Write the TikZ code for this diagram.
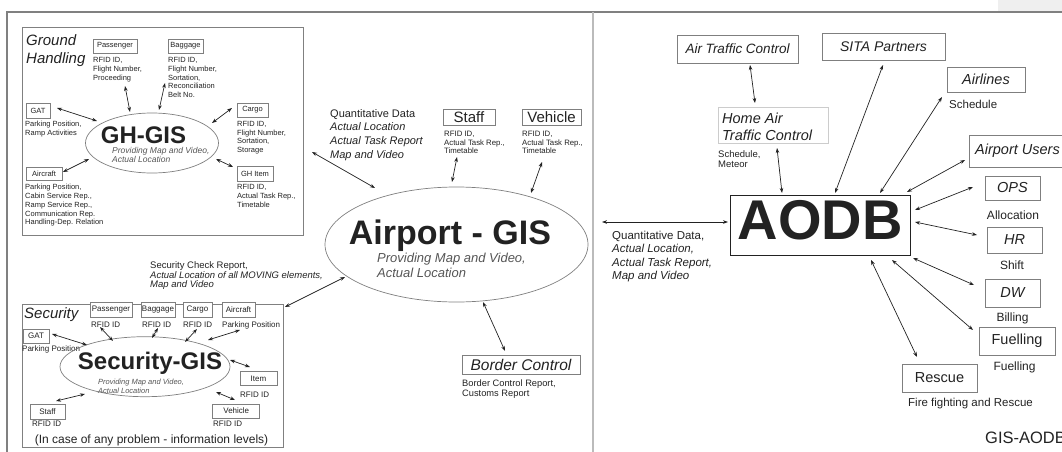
\documentclass[tikz,border=0pt]{standalone}
\usepackage{fontspec}
\setmainfont{Liberation Sans}
\usetikzlibrary{arrows.meta,shapes.geometric,calc}
\newcommand\myfs[2]{\fontsize{#1}{#2}\selectfont}
\definecolor{ink}{HTML}{222222}
\definecolor{boxc}{HTML}{7F7F7F}
\definecolor{subc}{HTML}{555555}
\definecolor{framec}{HTML}{808080}
\definecolor{sepc}{HTML}{BBBBBB}
\definecolor{cornerc}{HTML}{EFEFEF}
\definecolor{hatcc}{HTML}{CCCCCC}
\begin{document}
\begin{tikzpicture}[x=1pt,y=-1pt,
  every node/.style={text=ink},
  bx/.style 2 args={draw=boxc, line width=0.7pt, fill=white, inner sep=0pt, minimum width=#1, minimum height=#2},
  lbl/.style={anchor=north west, inner sep=0pt, align=left},
  wl/.style={anchor=west, inner sep=0pt},
  ell/.style 2 args={ellipse, draw=boxc, line width=0.7pt, minimum width=#1, minimum height=#2, inner sep=0pt},
  arr/.style={{Stealth[length=5pt,width=3.6pt]}-{Stealth[length=5pt,width=3.6pt]}, line width=0.7pt, draw=ink},
  sm/.style={font=\myfs{7.5}{8.7}},
]
\useasboundingbox (0,0) rectangle (1062,452);
\clip (0,0) rectangle (1062,452);
\fill[cornerc] (998,0) rectangle (1062,12);
\draw[framec, line width=1.2pt] (7,452) -- (7,12) -- (1062,12);
\draw[sepc, line width=2pt] (593,12) -- (593,452);

% ---------------- Ground handling ----------------
\node[bx={281}{208}, draw=framec, fill=none] (ghframe) at (162.5,131) {};
\node[lbl, font=\itshape\myfs{15}{18}] (ghtitle) at (26,34.5) {Ground\\Handling};
\node[bx={44}{14}, sm] (pgbox) at (115,46) {Passenger};
\node[lbl, sm] (pglbl) at (93,57.3) {RFID ID,\\Flight Number,\\Proceeding};
\node[bx={35}{14}, sm] (bgbox) at (185.5,46) {Baggage};
\node[lbl, sm] (bglbl) at (168,57.3) {RFID ID,\\Flight Number,\\Sortation,\\Reconciliation\\Belt No.};
\node[bx={24}{15}, sm] (gatbox) at (38,110.5) {GAT};
\node[lbl, sm] (gatlbl) at (25,121) {Parking Position,\\Ramp Activities};
\node[bx={31}{14}, sm] (cgbox) at (252.5,110) {Cargo};
\node[lbl, sm] (cglbl) at (237,121) {RFID ID,\\Flight Number,\\Sortation,\\Storage};
\node[bx={36}{13}, sm] (acbox) at (44,173.5) {Aircraft};
\node[lbl, sm] (aclbl) at (25,184.3) {Parking Position,\\Cabin Service Rep.,\\Ramp Service Rep.,\\Communication Rep.\\Handling-Dep. Relation};
\node[bx={36}{15}, sm] (gibox) at (255,173.5) {GH Item};
\node[lbl, sm] (gilbl) at (237,184.3) {RFID ID,\\Actual Task Rep.,\\Timetable};
\node[ell={133}{60}] (ghgis) at (152,143) {};
\node[font=\bfseries\myfs{24}{24}, inner sep=0pt] (ghgist) at (143.5,135) {GH-GIS};
\node[lbl, font=\itshape\myfs{8.5}{9}, text=subc] (ghgiss) at (112,146.8) {Providing Map and Video,\\Actual Location};

\draw[arr] ($(pgbox)+(10,40)$) -- ($(ghgis)+(-22,-31)$);
\draw[arr] ($(bgbox)+(-20.5,37)$) -- ($(ghgis)+(7,-33)$);
\draw[arr] ($(gatbox)+(19,-2.5)$) -- ($(ghgis)+(-55,-22)$);
\draw[arr] ($(cgbox)+(-20.5,-2)$) -- ($(ghgis)+(60,-20)$);
\draw[arr] ($(acbox)+(19,-1.5)$) -- ($(ghgis)+(-63,16)$);
\draw[arr] ($(gibox)+(-22,-6.5)$) -- ($(ghgis)+(64,16)$);

% ---------------- Airport GIS ----------------
\node[ell={263}{115}] (agis) at (456.5,244.5) {};
\node[font=\bfseries\myfs{34}{34}, inner sep=0pt] (agist) at (450,236) {Airport - GIS};
\node[lbl, font=\itshape\myfs{13}{15}, text=subc] (agiss) at (377,253.3) {Providing Map and Video,\\Actual Location};
\node[lbl, font=\myfs{11}{13.7}] (qlbl) at (330,109) {Quantitative Data\\\textit{Actual Location}\\\textit{Actual Task Report}\\\textit{Map and Video}};
\node[bx={52}{16}, font=\myfs{15}{15}] (staffbox) at (469,117) {Staff};
\node[lbl, font=\myfs{7.8}{8.5}] (stafflbl) at (444,131) {RFID ID,\\Actual Task Rep.,\\Timetable};
\node[bx={59}{16}, font=\myfs{15}{15}] (vehbox) at (551.5,117) {Vehicle};
\node[lbl, font=\myfs{7.8}{8.5}] (vehlbl) at (522,131) {RFID ID,\\Actual Task Rep.,\\Timetable};
\node[bx={118}{19}, font=\itshape\myfs{15.5}{15.5}] (bcbox) at (521,364.5) {Border Control};
\node[lbl, font=\myfs{9.3}{10}] (bclbl) at (462,379.5) {Border Control Report,\\Customs Report};
\node[lbl, font=\myfs{9.5}{9.5}] (seclbl) at (150,261.5) {Security Check Report,\\\textit{Actual Location of all MOVING elements,}\\\textit{Map and Video}};

% ---------------- Security ----------------
\node[bx={261}{143}, draw=framec, fill=none] (secframe) at (152.5,375.5) {};
\node[lbl, font=\itshape\myfs{15}{15}] (sectitle) at (24,307) {Security};
\node[bx={42}{15}, font=\myfs{8}{8}] (spgbox) at (111,309.5) {Passenger};
\node[bx={34}{15}, font=\myfs{8}{8}] (sbgbox) at (158,309.5) {Baggage};
\node[bx={29}{15}, font=\myfs{8}{8}] (scgbox) at (197.5,309.5) {Cargo};
\node[bx={33}{15}, font=\myfs{8}{8}] (sacbox) at (238.5,309.5) {Aircraft};
\node[wl, font=\myfs{8}{8}] (spglbl) at (91,324.3) {RFID ID};
\node[wl, font=\myfs{8}{8}] (sbglbl) at (142,324.3) {RFID ID};
\node[wl, font=\myfs{8}{8}] (scglbl) at (183,324.3) {RFID ID};
\node[wl, font=\myfs{8}{8}] (saclbl) at (222,325.7) {Parking Position};
\node[bx={26}{14}, font=\myfs{8}{8}] (sgatbox) at (36,336) {GAT};
\node[wl, font=\myfs{8}{8}] (sgatlbl) at (22,349.3) {Parking Position};
\node[ell={170}{60}] (secgis) at (145,366.7) {};
\node[font=\bfseries\myfs{24}{24}, inner sep=0pt] (secgist) at (150,363) {Security-GIS};
\node[lbl, font=\itshape\myfs{7.5}{8.5}, text=subc] (secgiss) at (98,379.2) {Providing Map and Video,\\Actual Location};
\node[bx={37}{14}, font=\myfs{8}{8}] (sitembox) at (258.5,378.5) {Item};
\node[wl, font=\myfs{8}{8}] (sitemlbl) at (240,395) {RFID ID};
\node[bx={35}{15}, font=\myfs{8}{8}] (sstaffbox) at (47.5,411.5) {Staff};
\node[wl, font=\myfs{8}{8}] (sstafflbl) at (32,424) {RFID ID};
\node[bx={47}{14}, font=\myfs{8}{8}] (svehbox) at (236.3,411) {Vehicle};
\node[wl, font=\myfs{8}{8}] (svehlbl) at (213,424) {RFID ID};
\node[font=\myfs{12}{12}, inner sep=0pt] (sfoot) at (151.5,440.7) {(In case of any problem - information levels)};

\draw[arr] ($(spgbox)+(-11,17.5)$) -- ($(secgis)+(-32,-25.7)$);
\draw[arr] ($(sbgbox)+(0,18.5)$) -- ($(secgis)+(7,-28.7)$);
\draw[arr] ($(scgbox)+(-0.5,19.5)$) -- ($(secgis)+(40,-24.7)$);
\draw[arr] ($(sacbox)+(1.5,20.5)$) -- ($(secgis)+(63,-26.7)$);
\draw[arr] ($(sgatbox)+(16,-2)$) -- ($(secgis)+(-58,-21.7)$);
\draw[arr] ($(sitembox)+(-8.5,-11.5)$) -- ($(secgis)+(85,-6.7)$);
\draw[arr] ($(sstaffbox)+(8.5,-10.5)$) -- ($(secgis)+(-60,27.3)$);
\draw[arr] ($(svehbox)+(-1.3,-11)$) -- ($(secgis)+(71,25.3)$);

% links to Airport GIS
\draw[arr] ($(ghframe)+(149.5,21)$) -- ($(agis)+(-81.5,-56.5)$);
\draw[arr] ($(staffbox)+(-12,40)$) -- ($(agis)+(-4.5,-62.5)$);
\draw[arr] ($(vehbox)+(-9.5,45)$) -- ($(agis)+(74.5,-51.5)$);
\draw[arr] ($(secframe)+(132.5,-68.5)$) -- ($(agis)+(-111.5,32.5)$);
\draw[arr] ($(bcbox)+(-16,-13.5)$) -- ($(agis)+(26.5,57.5)$);

% ---------------- AODB ----------------
\node[draw=ink, line width=0.9pt, minimum width=180, minimum height=60, inner sep=0pt] (aodb) at (820,225) {};
\node[font=\bfseries\myfs{56}{56}, inner sep=0pt] (aodbt) at (820,220) {AODB};
\node[lbl, font=\myfs{11.5}{13.3}] (qlbl2) at (612,231) {Quantitative Data,\\\textit{Actual Location,}\\\textit{Actual Task Report,}\\\textit{Map and Video}};
\draw[arr] ($(agis)+(145.5,-22.5)$) -- ($(aodb)+(-92,-3)$);

\node[bx={121}{28}, font=\itshape\myfs{13.5}{13.5}] (atcbox) at (737.5,49) {Air Traffic Control};
\node[bx={123}{27}, font=\itshape\myfs{14}{14}] (sitabox) at (883.5,46.5) {SITA Partners};
\node[bx={78}{25}, font=\itshape\myfs{14.5}{14.5}] (airlbox) at (986,79.5) {Airlines};
\node[wl, font=\myfs{11.5}{11.5}] (airllbl) at (949,104) {Schedule};
\node[bx={110}{36}, draw=hatcc] (hatcbox) at (773,125) {};
\node[lbl, font=\itshape\myfs{14.5}{17}] (hatct) at (722,112.5) {Home Air\\Traffic Control};
\node[lbl, font=\myfs{9.5}{9.5}] (hatclbl) at (718,150.5) {Schedule,\\Meteor};
\node[bx={100}{32}] (upbox) at (1019,151) {};
\node[wl, font=\itshape\myfs{14.5}{14.5}] (upt) at (975,151) {Airport Users};
\node[bx={55}{24}, font=\itshape\myfs{14.5}{14.5}] (opsbox) at (1012.5,188) {OPS};
\node[font=\myfs{12}{12}, inner sep=0pt] (opslbl) at (1013,215) {Allocation};
\node[bx={55}{26}, font=\itshape\myfs{14.5}{14.5}] (hrbox) at (1014.5,240) {HR};
\node[font=\myfs{12}{12}, inner sep=0pt] (hrlbl) at (1012,265) {Shift};
\node[bx={55}{28}, font=\itshape\myfs{14.5}{14.5}] (dwbox) at (1012.5,293) {DW};
\node[font=\myfs{12}{12}, inner sep=0pt] (dwlbl) at (1012.5,318) {Billing};
\node[bx={76}{28}, font=\myfs{14.5}{14.5}] (fuelbox) at (1017,341) {Fuelling};
\node[font=\myfs{12}{12}, inner sep=0pt] (fuellbl) at (1014.5,367) {Fuelling};
\node[bx={75}{28}, font=\myfs{14.5}{14.5}] (rescbox) at (939.5,378) {Rescue};
\node[wl, font=\myfs{11.5}{11.5}] (resclbl) at (908,404) {Fire fighting and Rescue};
\node[wl, font=\myfs{16.5}{16.5}] (gistitle) at (985,438) {GIS-AODB};

\draw[arr] ($(atcbox)+(12.5,16)$) -- ($(hatcbox)+(-18,-22)$);
\draw[arr] ($(hatcbox)+(4,23)$) -- ($(aodb)+(-38,-32)$);
\draw[arr] ($(sitabox)+(-0.5,18.5)$) -- ($(aodb)+(15,-32)$);
\draw[arr] ($(airlbox)+(-44,17.5)$) -- ($(aodb)+(60,-32)$);
\draw[arr] ($(upbox)+(-54,9)$) -- ($(aodb)+(87,-33)$);
\draw[arr] ($(opsbox)+(-39.5,-1)$) -- ($(aodb)+(95,-15)$);
\draw[arr] ($(hrbox)+(-37.5,-5)$) -- ($(aodb)+(95,-3)$);
\draw[arr] ($(dwbox)+(-38.5,-8)$) -- ($(aodb)+(93,33)$);
\draw[arr] ($(fuelbox)+(-44,-11)$) -- ($(aodb)+(72,35)$);
\draw[arr] ($(rescbox)+(-22.5,-21)$) -- ($(aodb)+(51,35)$);
\end{tikzpicture}
\end{document}
